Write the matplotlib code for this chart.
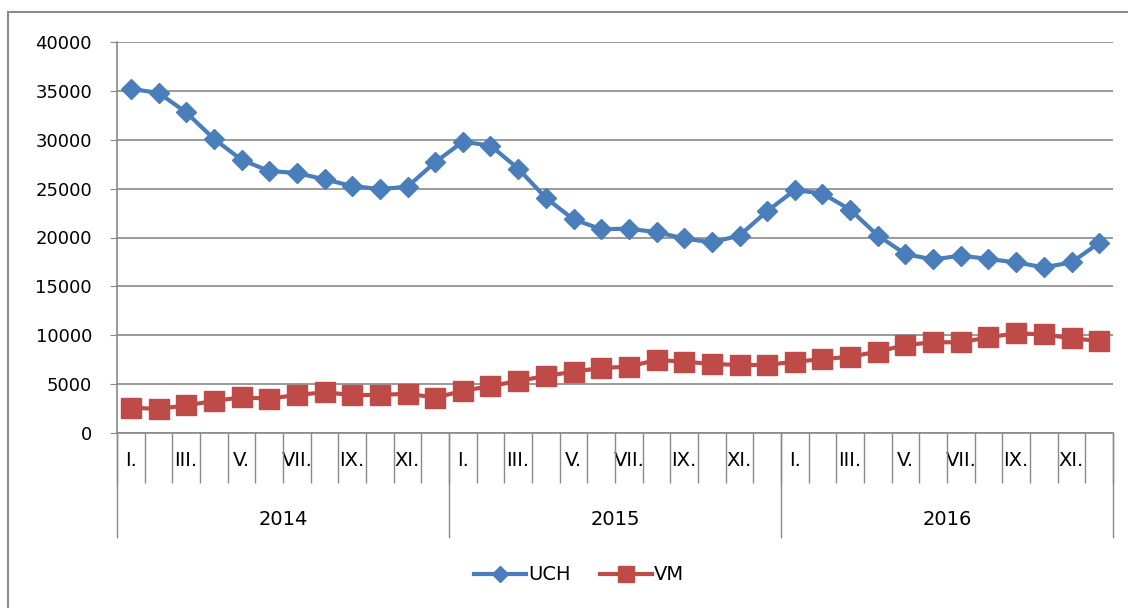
import numpy as np
import matplotlib
matplotlib.use("Agg")
import matplotlib.pyplot as plt
import matplotlib.transforms as mtransforms
from matplotlib.patches import Rectangle

years = ['2014', '2015', '2016']
months = ['I.', 'II.', 'III.', 'IV.', 'V.', 'VI.', 'VII.', 'VIII.', 'IX.', 'X.', 'XI.', 'XII.']

uch = [35200, 34800, 32800, 30100, 27950, 26800, 26600, 25950, 25270, 24950, 25200, 27700,
       29800, 29400, 27050, 24050, 21850, 20850, 20900, 20550, 19900, 19500, 20200, 22700,
       24850, 24500, 22850, 20200, 18300, 17750, 18150, 17800, 17450, 16950, 17450, 19450]
vm = [2590, 2460, 2830, 3270, 3650, 3510, 3890, 4160, 3890, 3890, 4020, 3620,
      4300, 4810, 5320, 5830, 6270, 6650, 6790, 7470, 7300, 7060, 6960, 6960,
      7300, 7540, 7810, 8320, 9000, 9280, 9280, 9790, 10200, 10090, 9690, 9410]

grey = '#898989'
n = len(years) * len(months)
x = np.arange(n) + 0.5

fig = plt.figure(figsize=(11.28, 6.08), dpi=100)
ax = fig.add_axes([117 / 1128, 175 / 608, 996 / 1128, 391 / 608])

ax.plot(x, uch, color='#4A7EBB', lw=3, marker='D', ms=10, label='UCH', zorder=3, clip_on=False)
ax.plot(x, vm, color='#BE4B48', lw=3, marker='s', ms=14, label='VM', zorder=3, clip_on=False)

ax.set_xlim(0, n)
ax.set_ylim(0, 40000)
ax.set_yticks(range(0, 40001, 5000))
ax.yaxis.grid(True, color=grey, lw=1.2)
ax.set_axisbelow(True)
for s in ['top', 'right']:
    ax.spines[s].set_visible(False)
for s in ['left', 'bottom']:
    ax.spines[s].set_color(grey)
    ax.spines[s].set_linewidth(1.2)

ax.tick_params(axis='y', length=5, color=grey, labelsize=13, pad=13)

# month level (every other label shown, like Excel)
labels = [m if i % 2 == 0 else '' for i, m in enumerate(months)] * len(years)
ax.set_xticks(x, labels)
ax.set_xticks(np.arange(n + 1), minor=True)
ax.tick_params(axis='x', which='major', length=0, labelsize=14, pad=13)
ax.tick_params(axis='x', which='minor', length=36, color=grey, width=1)

# year level
trans = mtransforms.blended_transform_factory(ax.transData, ax.transAxes)
for i, yr in enumerate(years):
    ax.text(len(months) * (i + 0.5), -0.22, yr, transform=trans, ha='center', va='center', fontsize=14)
for i in range(len(years) + 1):
    ax.plot([len(months) * i] * 2, [0, -0.266], transform=trans, clip_on=False, color=grey, lw=1)

fig.patches.append(Rectangle((8 / 1128, -0.1), 1.2, 0.1 + 1 - 12 / 608, transform=fig.transFigure,
                             fill=False, ec='#8c8c8c', lw=1.5))

fig.legend(loc='center', bbox_to_anchor=(579 / 1128, 1 - 575 / 608), ncol=2, frameon=False,
           fontsize=14, handlelength=2.7, columnspacing=1.5, handletextpad=0.1, markerscale=0.8)

fig.savefig('out.png', dpi=100)
